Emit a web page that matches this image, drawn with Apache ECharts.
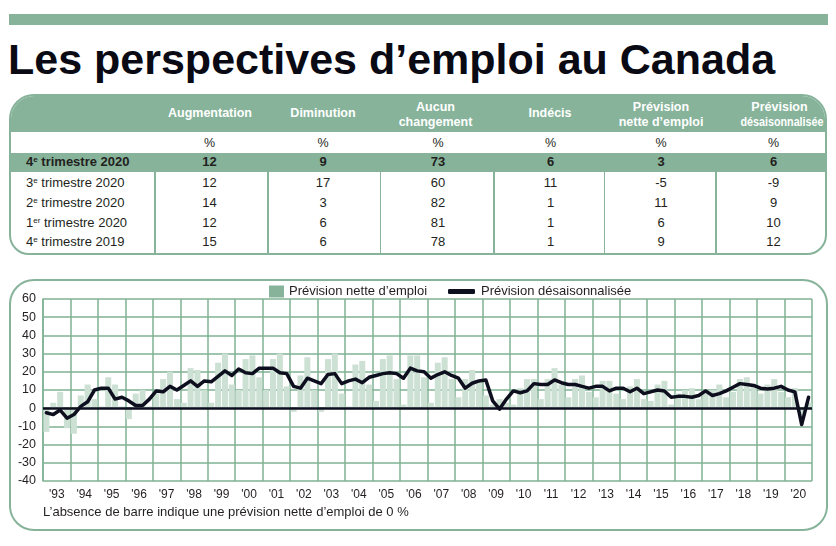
<!DOCTYPE html>
<html><head><meta charset="utf-8">
<script src="https://cdn.jsdelivr.net/npm/echarts@6/dist/echarts.min.js"></script>
<style>
html,body{margin:0;padding:0;background:#fff;}
body{width:836px;height:546px;position:relative;overflow:hidden;font-family:'Liberation Sans',Arial,sans-serif;color:#231f20;}
.abs{position:absolute;}
.t{position:absolute;white-space:nowrap;text-align:center;}
sup{font-size:0.62em;line-height:0;vertical-align:0.55em;}
</style></head><body>
<div class="abs" style="left:9px;top:14px;width:819px;height:11px;background:#86b39a"></div>
<div class="abs" style="left:8px;top:38px;font-weight:bold;font-size:43px;line-height:43px;white-space:nowrap;color:#0a0a14">Les perspectives d’emploi au Canada</div>
<div id="table" class="abs" style="left:9px;top:94px;width:814px;height:157px;border:2.5px solid #86b39a;border-radius:25px 25px 20px 20px;overflow:hidden;background:#fff"></div>
<div class="abs" style="left:9px;top:279px;width:815px;height:248px;border:2.5px solid #86b39a;border-radius:25px"></div>
<div id="chart" class="abs" style="left:0;top:0;width:836px;height:546px"></div>
<script>
// ---------- table data ----------
const tableHeaders = [["Augmentation"],["Diminution"],["Aucun","changement"],["Indécis"],["Prévision","nette d’emploi"],["Prévision","désaisonnalisée"]];
const tableRowLabels = ["4<sup>e</sup> trimestre 2020","3<sup>e</sup> trimestre 2020","2<sup>e</sup> trimestre 2020","1<sup>er</sup> trimestre 2020","4<sup>e</sup> trimestre 2019"];
const colAugmentation = [12,12,14,12,15];
const colDiminution   = [9,17,3,6,6];
const colAucun        = [73,60,82,81,78];
const colIndecis      = [6,11,1,1,1];
const colNette        = [3,-5,11,6,9];
const colDesais       = [6,-9,9,10,12];

// ---------- chart data ----------
const years = [1993,1994,1995,1996,1997,1998,1999,2000,2001,2002,2003,2004,2005,2006,2007,2008,2009,2010,2011,2012,2013,2014,2015,2016,2017,2018,2019,2020];
const yearLabels = ["'93","'94","'95","'96","'97","'98","'99","'00","'01","'02","'03","'04","'05","'06","'07","'08","'09","'10","'11","'12","'13","'14","'15","'16","'17","'18","'19","'20"];
const netOutlook = [
  -13,3,9,-11,   // 1993
  -14,7,13,5,    // 1994
  1,17,13,1,     // 1995
  -6,8,10,1,     // 1996
  8,16,20,5,     // 1997
  3,22,21,10,    // 1998
  3,25,30,13,    // 1999
  10,27,29,17,   // 2000
  10,27,30,12,   // 2001
  -2,18,28,10,   // 2002
  -2,27,30,8,    // 2003
  1,24,26,13,    // 2004
  4,27,29,16,    // 2005
  2,29,29,17,    // 2006
  3,25,28,16,    // 2007
  6,16,21,14,    // 2008
  7,2,5,3,       // 2009
  2,11,16,16,    // 2010
  5,16,22,13,    // 2011
  6,16,18,9,     // 2012
  6,15,15,8,     // 2013
  5,12,16,5,     // 2014
  4,13,15,2,     // 2015
  8,10,11,5,     // 2016
  10,10,13,6,    // 2017
  9,16,17,13,    // 2018
  8,13,16,9,     // 2019
  6,11,-5,3      // 2020
];
const seasonallyAdjusted = [
  -2.5,-3.5,-1,-5.5,   // 1993
  -3.5,1,3.5,10,       // 1994
  11,11,5,6,           // 1995
  4,1.5,1.5,5,         // 1996
  9.5,9,12,10,         // 1997
  12.5,15,12,15,       // 1998
  14.5,17.5,20.5,18,   // 1999
  21.5,19.5,19,22,     // 2000
  22,22,19.5,19,       // 2001
  12,11,16.5,15,       // 2002
  13.5,18.5,19,13.5,   // 2003
  15,16,14,17,         // 2004
  18,19,19.5,19,       // 2005
  16.5,22,20.5,20,     // 2006
  16.5,18.5,20,18,     // 2007
  16.5,11,13.7,15,     // 2008
  15.5,4,-0.5,5,       // 2009
  9.5,8.5,9.5,13.5,    // 2010
  13,13,15.5,14,       // 2011
  13,13,12,11,         // 2012
  12,12,9.5,11,        // 2013
  11,9,11,8,           // 2014
  9,10,9.5,6,          // 2015
  6.5,6.5,6,7,         // 2016
  9.5,7,8,9.5,         // 2017
  11.5,13.5,13,12.5,   // 2018
  11,10.5,11,12,       // 2019
  10,9,-9,6            // 2020
];
const quarterLabels = [];
years.forEach(y => { ['T1','T2','T3','T4'].forEach(q => quarterLabels.push(y + ' ' + q)); });

// ---------- build table ----------
const GREEN = '#86b39a';
const tbl = document.getElementById('table');
const OX = 11.5, OY = 96.5; // inner origin in page coords
function box(x, y, w, h, bg) {
  const d = document.createElement('div');
  d.className = 'abs';
  d.style.cssText = `left:${x-OX}px;top:${y-OY}px;width:${w}px;height:${h}px;background:${bg}`;
  tbl.appendChild(d); return d;
}
function txt(html, cx, cy, opts) {
  opts = opts || {};
  const d = document.createElement('div');
  d.className = 't';
  const h = 18;
  const align = opts.align || 'center';
  let left = align === 'center' ? cx - 100 : cx;
  d.style.cssText = `left:${left-OX}px;top:${cy-h/2-OY}px;width:200px;height:${h}px;line-height:${h}px;text-align:${align};font-size:${opts.size||13}px;font-weight:${opts.bold?'bold':'normal'};color:${opts.color||'#231f20'}` + (opts.sx ? `;transform:scaleX(${opts.sx});transform-origin:center` : '');
  d.innerHTML = html;
  tbl.appendChild(d);
}
box(0, 0, 836, 132, GREEN);          // header fill
box(0, 153, 836, 19, GREEN);         // highlight row
const colBounds = [155.7, 268.3, 381, 494.3, 605, 716.7];
colBounds.forEach(x => box(x - 0.75, 172, 1.5, 100, GREEN));
const headCenters = [210.5, 323.5, 436, 550.5, 661.5, 780];
const dataCenters = [210, 323.5, 438.5, 551, 661.5, 774];
tableHeaders.forEach((lines, i) => {
  const sx = i === 5 ? 0.86 : 0;
  if (lines.length === 1) txt(lines[0], headCenters[i], 113.5, {bold:true, color:'#fff', size:12.5});
  else {
    txt(lines[0], headCenters[i], 107.5, {bold:true, color:'#fff', size:12.5});
    txt(lines[1], i === 5 ? 782.5 : headCenters[i], 122.5, {bold:true, color:'#fff', size:12.5, sx});
  }
  txt('%', dataCenters[i], 143, {size:12.5});
});
const cols = [colAugmentation, colDiminution, colAucun, colIndecis, colNette, colDesais];
const rowCenters = [162.5, 183.3, 203.2, 223, 242.7];
tableRowLabels.forEach((lab, r) => {
  const bold = r === 0;
  txt(lab, 26.5, rowCenters[r], {align:'left', bold, size:13});
  cols.forEach((c, i) => txt(String(c[r]), dataCenters[i], rowCenters[r], {bold, size:13}));
});

// ---------- chart ----------
const GRID = '#80b295';
const BAR = '#cde0d4';
const LINE = '#0d0e1e';
const chart = echarts.init(document.getElementById('chart'));
chart.setOption({
  animation: false,
  textStyle: {fontFamily: 'Liberation Sans', color: '#231f20'},
  legend: [
    {data: [{name: 'Prévision nette d’emploi', icon: 'rect', itemStyle: {color: GREEN}}],
     left: 269, top: 285, itemWidth: 15, itemHeight: 12, padding: 0, selectedMode: false,
     textStyle: {fontSize: 13, color: '#231f20', padding: [0,0,0,0]}},
    {data: [{name: 'Prévision désaisonnalisée', icon: 'roundRect', itemStyle: {color: LINE}}],
     left: 448, top: 285, itemWidth: 27, itemHeight: 5, padding: 0, selectedMode: false,
     textStyle: {fontSize: 13, color: '#231f20', padding: [0,0,0,1]}}
  ],
  grid: {left: 43, top: 299, width: 769, height: 182, containLabel: false},
  xAxis: [
    {type: 'category', data: quarterLabels, boundaryGap: true,
     axisLine: {show: false}, axisTick: {show: false}, axisLabel: {show: false}, splitLine: {show: false}},
    {type: 'category', data: yearLabels, boundaryGap: true, position: 'bottom',
     axisLine: {show: false, onZero: false}, axisTick: {show: false},
     axisLabel: {interval: 0, margin: 8, fontSize: 12, color: '#231f20'},
     splitLine: {show: true, interval: 0, lineStyle: {color: GRID, width: 1.5}}}
  ],
  yAxis: {type: 'value', min: -40, max: 60, interval: 10,
    axisLine: {show: true, lineStyle: {color: GRID, width: 1.5}}, axisTick: {show: false},
    axisLabel: {margin: 7, fontSize: 12.5, color: '#231f20'},
    splitLine: {show: true, lineStyle: {color: GRID, width: 1.5}}},
  graphic: [
    {type: 'text', left: 43, top: 506, style: {text: 'L’absence de barre indique une prévision nette d’emploi de 0 %', fontSize: 13, fontFamily: 'Liberation Sans', fill: '#231f20'}}
  ],
  series: [
    {type: 'bar', name: 'Prévision nette d’emploi', data: netOutlook, xAxisIndex: 0, barWidth: 6,
     itemStyle: {color: BAR}, silent: true,
     markLine: {silent: true, symbol: ['none','none'], label: {show: false},
       lineStyle: {color: LINE, width: 2.5, type: 'solid'}, data: [{yAxis: 0}]}},
    {type: 'line', name: 'Prévision désaisonnalisée', data: seasonallyAdjusted, xAxisIndex: 0,
     symbol: 'none', z: 5, lineStyle: {color: LINE, width: 3.5, join: 'round', cap: 'round'}, itemStyle: {color: LINE}}
  ]
});
</script>
</body></html>
